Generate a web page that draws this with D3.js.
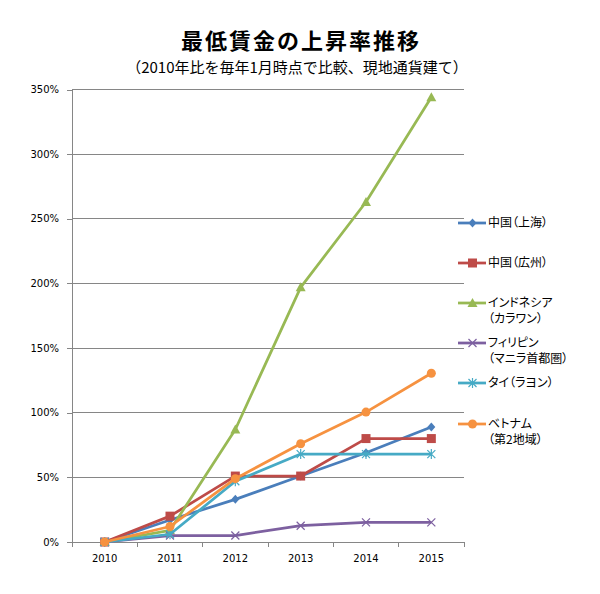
<!DOCTYPE html>
<html><head><meta charset="utf-8">
<script src="https://cdn.jsdelivr.net/npm/d3@7"></script>
<style>
body{margin:0;background:#fff;}
text.palt{font-feature-settings:"palt";}
</style></head>
<body><svg id="c" width="600" height="594"></svg>
<script>
const years = ["2010","2011","2012","2013","2014","2015"];
const seriesNames = [["中国（上海）"],["中国（広州）"],["インドネシア","（カラワン）"],["フィリピン","（マニラ首都圏）"],["タイ（ラヨン）"],["ベトナム","（第2地域）"]];
const shanghai   = [0, 0.17, 0.33, 0.51, 0.69, 0.89];
const guangzhou  = [0, 0.20, 0.51, 0.51, 0.80, 0.80];
const indonesia  = [0, 0.09, 0.87, 1.97, 2.63, 3.44];
const philippines= [0, 0.05, 0.05, 0.126, 0.152, 0.152];
const thailand   = [0, 0.06, 0.47, 0.68, 0.68, 0.68];
const vietnam    = [0, 0.12, 0.49, 0.76, 1.005, 1.305];
const yTicks = [0,0.5,1,1.5,2,2.5,3,3.5];
const colors = ["#4A7EBB","#BE4B48","#98B954","#7D60A0","#46AAC5","#F69240"];
const markers = ["diamond","square","triangle","x","asterisk","circle"];
const allSeries = [shanghai,guangzhou,indonesia,philippines,thailand,vietnam];

const svg = d3.select("#c");
const x = d3.scaleBand().domain(years).range([72,464]);
const y = d3.scaleLinear().domain([0,3.5]).range([542,89.5]);
const cx = d => x(d)+x.bandwidth()/2;
const grid = "#868686";

// gridlines
svg.append("g").selectAll("line").data(yTicks.filter(t=>t>0)).join("line")
  .attr("x1",72).attr("x2",464).attr("y1",d=>y(d)).attr("y2",d=>y(d))
  .attr("stroke",grid).attr("stroke-width",1).attr("shape-rendering","crispEdges");

// y axis
const ya = svg.append("g").attr("transform","translate(72,0)")
  .call(d3.axisLeft(y).tickValues(yTicks).tickFormat(d3.format(".0%")).tickSize(5).tickPadding(8));
ya.select(".domain").attr("stroke",grid).attr("shape-rendering","crispEdges");
ya.selectAll(".tick line").attr("stroke",grid).attr("shape-rendering","crispEdges");
ya.selectAll("text").attr("font-family","DejaVu Sans").attr("font-size",10).attr("fill","#000");

// x axis
const xa = svg.append("g").attr("transform","translate(0,542)")
  .call(d3.axisBottom(x).tickSize(0).tickPadding(13));
xa.select(".domain").attr("stroke",grid).attr("shape-rendering","crispEdges");
xa.selectAll("text").attr("font-family","DejaVu Sans").attr("font-size",10).attr("fill","#000");
const bounds = years.map(d=>x(d)).concat([464]);
svg.append("g").selectAll("line").data(bounds).join("line")
  .attr("x1",d=>d).attr("x2",d=>d).attr("y1",542).attr("y2",547)
  .attr("stroke",grid).attr("shape-rendering","crispEdges");

function drawMarker(g, type, color, px, py){
  if(type==="diamond"){
    g.append("path").attr("d",`M${px},${py-4.5}L${px+4},${py}L${px},${py+4.5}L${px-4},${py}Z`).attr("fill",color);
  } else if(type==="square"){
    g.append("rect").attr("x",px-4.5).attr("y",py-4.5).attr("width",9).attr("height",9).attr("fill",color);
  } else if(type==="triangle"){
    g.append("path").attr("d",`M${px},${py-5}L${px+5},${py+4}L${px-5},${py+4}Z`).attr("fill",color);
  } else if(type==="x"){
    g.append("path").attr("d",`M${px-4},${py-4}L${px+4},${py+4}M${px-4},${py+4}L${px+4},${py-4}`).attr("stroke",color).attr("stroke-width",1.2);
  } else if(type==="asterisk"){
    g.append("path").attr("d",`M${px-4},${py-4}L${px+4},${py+4}M${px-4},${py+4}L${px+4},${py-4}M${px},${py-5}L${px},${py+5}`).attr("stroke",color).attr("stroke-width",1.2);
  } else {
    g.append("circle").attr("cx",px).attr("cy",py).attr("r",4.5).attr("fill",color);
  }
}

const line = d3.line().x((d,i)=>cx(years[i])).y(d=>y(d));
allSeries.forEach((vals,k)=>{
  const g = svg.append("g");
  g.append("path").attr("d",line(vals)).attr("fill","none").attr("stroke",colors[k])
    .attr("stroke-width",2.75).attr("stroke-linejoin","round");
  vals.forEach((v,i)=>drawMarker(g, markers[k], colors[k], cx(years[i]), y(v)));
});

// legend
const legY = [223,263,303,343,383,424];
seriesNames.forEach((names,k)=>{
  const g = svg.append("g");
  g.append("line").attr("x1",458).attr("x2",486).attr("y1",legY[k]).attr("y2",legY[k])
    .attr("stroke",colors[k]).attr("stroke-width",2.75);
  drawMarker(g, markers[k], colors[k], 472.5, legY[k]);
  names.forEach((n,j)=>{
    g.append("text").attr("class","palt").attr("x",488).attr("y",legY[k]+j*16).attr("dy","0.35em")
      .attr("font-family","Noto Sans CJK JP").attr("font-size",12).attr("fill","#000").text(n);
  });
});

// titles
svg.append("text").attr("x",301).attr("y",41).attr("dy","0.35em").attr("text-anchor","middle")
  .attr("font-family","Noto Sans CJK JP").attr("font-weight","bold").attr("font-size",22)
  .attr("letter-spacing",2).attr("fill","#000").text("最低賃金の上昇率推移");
svg.append("text").attr("x",297).attr("y",68).attr("dy","0.35em").attr("text-anchor","middle")
  .attr("font-family","Noto Sans CJK JP").attr("font-size",15).attr("fill","#000")
  .text("（2010年比を毎年1月時点で比較、現地通貨建て）");
</script></body></html>
